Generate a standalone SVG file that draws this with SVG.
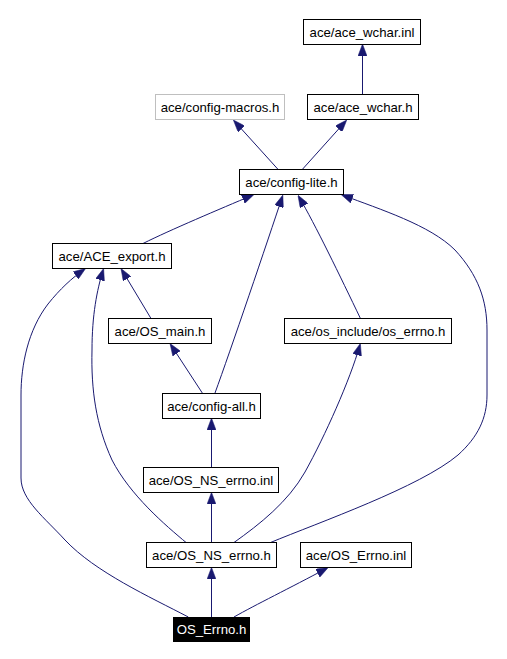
<svg xmlns="http://www.w3.org/2000/svg" width="507" height="659" viewBox="0 0 507 659">
<style>
.n rect{fill:#ffffff;stroke:#000000;stroke-width:1}
.n text{font-family:"Liberation Sans",Arial,sans-serif;font-size:13.2px;text-anchor:middle;fill:#000000}
.g rect{stroke:#bfbfbf}
.h rect{fill:#000000;stroke:#000000}
.h text{fill:#ffffff}
.e path{fill:none;stroke:#191970;stroke-width:1;marker-end:url(#ah)}
</style>
<defs>
<marker id="ah" viewBox="0 0 12 9" refX="10" refY="4.5" markerWidth="12" markerHeight="9" markerUnits="userSpaceOnUse" orient="auto">
<path d="M0,0 L12,4.5 L0,9 z" fill="#191970" stroke="#191970" stroke-width="0.5"/>
</marker>
</defs>
<rect width="507" height="659" fill="#ffffff"/>
<g id="edges" class="e">
<path d="M362.5,94 L362.5,46"/>
<path d="M277.7,169 L234.7,121.5"/>
<path d="M302.7,169 L345.4,121.5"/>
<path d="M143,243.5 C170,230 220,209 252.2,195.3"/>
<path d="M215,393 C230,352 268,240 282.2,197"/>
<path d="M360.7,319 C340,276 315,224 299,197"/>
<path d="M269.3,543 C320,522 420,487 458,455 C478,437 487,418 487,395 L487,330 C487,300 478,275 455,250 C430,225 380,209.4 342.9,195.2"/>
<path d="M151.3,319 L122,270.2"/>
<path d="M202.3,393 L171.1,345.2"/>
<path d="M211.5,467 L211.5,420"/>
<path d="M211.5,542 L211.5,494.3"/>
<path d="M211.5,617 L211.5,569.3"/>
<path d="M186.7,543 C165,525 130,495 112,460 C96,425 91,390 92,350 C92,315 97,290 103,270.4"/>
<path d="M233.3,543 C260,524 288,502 305,472 C325,436 350,380 359.8,345.4"/>
<path d="M234,617 C255,605 290,588 326.5,568.4"/>
<path d="M188.3,617 C150,597 95,572 65,540 C45,518 21,500 21,478 L21,395 C21,365 28,330 48,304 C60,289 72,278 83.9,269.7"/>
</g>
<g id="n_ace_wchar_inl" class="n"><rect x="303.5" y="19.5" width="117" height="25"/><text x="362" y="36.5">ace/ace_wchar.inl</text></g>
<g id="n_config_macros" class="n g"><rect x="155.5" y="94.5" width="129" height="25"/><text x="220" y="111.5">ace/config-macros.h</text></g>
<g id="n_ace_wchar_h" class="n"><rect x="307.5" y="94.5" width="111" height="25"/><text x="363" y="111.5">ace/ace_wchar.h</text></g>
<g id="n_config_lite" class="n"><rect x="239.5" y="169.5" width="104" height="25"/><text x="291.5" y="186.5">ace/config-lite.h</text></g>
<g id="n_ace_export" class="n"><rect x="52.5" y="243.5" width="119" height="25"/><text x="112" y="260.5">ace/ACE_export.h</text></g>
<g id="n_os_main" class="n"><rect x="108.5" y="318.5" width="103" height="25"/><text x="160" y="335.5">ace/OS_main.h</text></g>
<g id="n_os_errno" class="n"><rect x="284.5" y="318.5" width="167" height="25"/><text x="368" y="335.5">ace/os_include/os_errno.h</text></g>
<g id="n_config_all" class="n"><rect x="162.5" y="393.5" width="98" height="25"/><text x="211.5" y="410.5">ace/config-all.h</text></g>
<g id="n_os_ns_errno_inl" class="n"><rect x="143.5" y="467.5" width="135" height="25"/><text x="211" y="484.5">ace/OS_NS_errno.inl</text></g>
<g id="n_os_ns_errno_h" class="n"><rect x="146.5" y="542.5" width="130" height="25"/><text x="211.5" y="559.5">ace/OS_NS_errno.h</text></g>
<g id="n_os_errno_inl" class="n"><rect x="300.5" y="542.5" width="111" height="25"/><text x="356" y="559.5">ace/OS_Errno.inl</text></g>
<g id="n_os_errno_h" class="n h"><rect x="173.5" y="617.5" width="76" height="24"/><text x="211.5" y="634">OS_Errno.h</text></g>
</svg>
